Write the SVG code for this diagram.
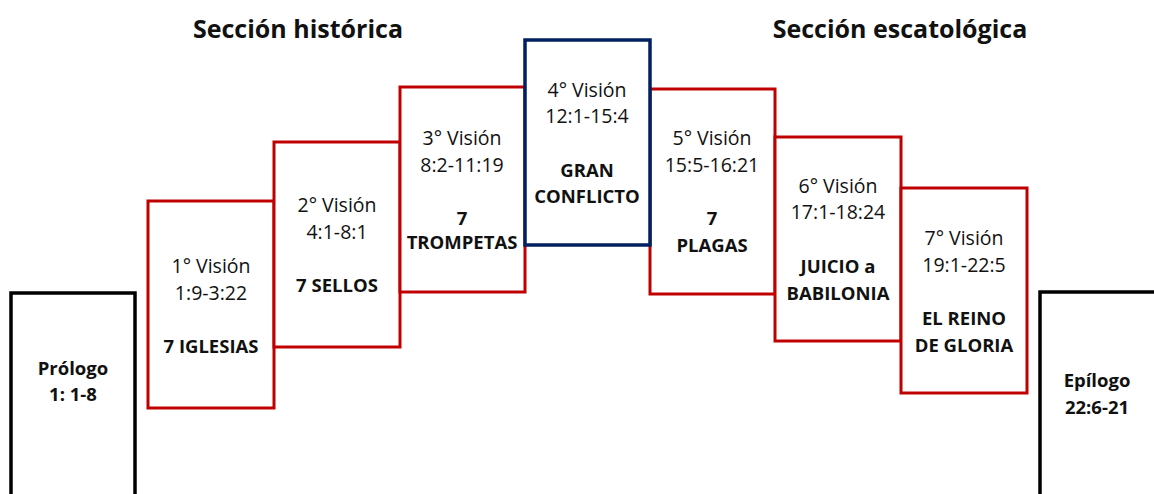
<svg xmlns="http://www.w3.org/2000/svg" width="1154" height="494" viewBox="0 0 1154 494">
<style>
.bg{fill:#ffffff}
.red{fill:#ffffff;stroke:#c00000;stroke-width:3}
.blue{fill:#ffffff;stroke:#002060;stroke-width:3.5}
.blk{fill:#ffffff;stroke:#000000;stroke-width:3.5}
text{font-family:"Open Sans","Liberation Sans",sans-serif;fill:#111111;text-anchor:middle}
.r{font-size:19.5px}
.b{font-size:18.5px;font-weight:bold}
.h{font-size:25px;font-weight:bold}
</style>
<rect class="bg" x="0" y="0" width="1154" height="494"/>
<text class="h" x="298" y="38">Sección histórica</text>
<text class="h" x="900" y="38">Sección escatológica</text>
<g id="prologo">
<rect class="blk" x="11" y="293" width="124" height="220"/>
<text class="b" x="73" y="375">Prólogo</text>
<text class="b" x="73" y="401">1: 1-8</text>
</g>
<g id="epilogo">
<rect class="blk" x="1040" y="292" width="130" height="220"/>
<text class="b" x="1097" y="387">Epílogo</text>
<text class="b" x="1097" y="414">22:6-21</text>
</g>
<g id="v1">
<rect class="red" x="148" y="201" width="126" height="207"/>
<text class="r" x="211" y="273">1° Visión</text>
<text class="r" x="211" y="300">1:9-3:22</text>
<text class="b" x="211" y="353">7 IGLESIAS</text>
</g>
<g id="v2">
<rect class="red" x="274" y="142" width="126" height="205"/>
<text class="r" x="337" y="212">2° Visión</text>
<text class="r" x="337" y="239">4:1-8:1</text>
<text class="b" x="337" y="292">7 SELLOS</text>
</g>
<g id="v3">
<rect class="red" x="400" y="87" width="125" height="205"/>
<text class="r" x="462" y="145">3° Visión</text>
<text class="r" x="462" y="172">8:2-11:19</text>
<text class="b" x="462" y="225">7</text>
<text class="b" x="462" y="249">TROMPETAS</text>
</g>
<g id="v5">
<rect class="red" x="650" y="89" width="125" height="205"/>
<text class="r" x="712" y="145">5° Visión</text>
<text class="r" x="712" y="172">15:5-16:21</text>
<text class="b" x="712" y="225">7</text>
<text class="b" x="712" y="252">PLAGAS</text>
</g>
<g id="v6">
<rect class="red" x="775" y="137" width="126" height="204"/>
<text class="r" x="838" y="193">6° Visión</text>
<text class="r" x="838" y="219">17:1-18:24</text>
<text class="b" x="838" y="273">JUICIO a</text>
<text class="b" x="838" y="300">BABILONIA</text>
</g>
<g id="v7">
<rect class="red" x="901" y="188" width="126" height="205"/>
<text class="r" x="964" y="245">7° Visión</text>
<text class="r" x="964" y="272">19:1-22:5</text>
<text class="b" x="964" y="325">EL REINO</text>
<text class="b" x="964" y="352">DE GLORIA</text>
</g>
<g id="v4">
<rect class="blue" x="525" y="40" width="125" height="205"/>
<text class="r" x="587" y="97">4° Visión</text>
<text class="r" x="587" y="123">12:1-15:4</text>
<text class="b" x="587" y="177">GRAN</text>
<text class="b" x="587" y="203">CONFLICTO</text>
</g>
<g id="connectors"></g>
</svg>
